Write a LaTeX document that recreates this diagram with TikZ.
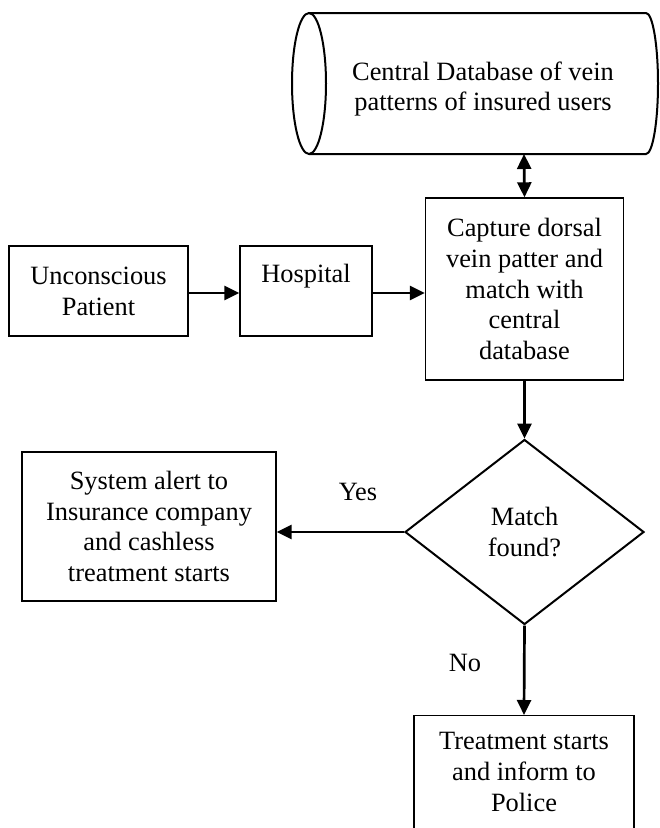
\documentclass[tikz,border=0pt]{standalone}
\usepackage{fontspec}
\setmainfont{Liberation Serif}
\usetikzlibrary{arrows.meta,shapes.geometric}
\begin{document}
\begin{tikzpicture}[x=1pt,y=-1pt,
  every node/.style={font=\fontsize{26.4}{30.8}\selectfont},
  box/.style={draw, line width=1.4pt, align=center, inner sep=0pt},
  plain/.style={inner sep=0pt, align=center},
  cyl/.style={draw, line width=2pt},
  arr/.style={line width=2.7pt, -{Triangle[length=15pt,width=14pt]}},
  darr/.style={line width=2.7pt, {Triangle[length=15pt,width=14pt]}-{Triangle[length=15pt,width=14pt]}},
  dec/.style={diamond, draw, line width=2pt, inner sep=0pt, align=center}]
\useasboundingbox (0,0) rectangle (660,828);
\clip (0,0) rectangle (660,828);
% database cylinder
\draw[cyl] (309,13) -- (646,13) arc[start angle=-90, end angle=90, x radius=12, y radius=70.5] -- (309,154);
\draw[cyl] (309,83.5) ellipse[x radius=17, y radius=70.5];
\node[plain] (db) at (483,89) {Central Database of vein\\patterns of insured users};
\coordinate (dbb) at (524,154);
% boxes
\node[box, minimum width=198, minimum height=182] (cap) at (524.5,289) {Capture dorsal\\vein patter and\\match with\\central\\database};
\node[box, minimum width=179, minimum height=90] (unc) at (98.5,291) {Unconscious\\Patient};
\node[box, minimum width=132, minimum height=90] (hosp) at (306,291) {};
\node[plain, anchor=base] (hosptxt) at (306,282) {Hospital};
\node[dec, minimum width=239, minimum height=185] (match) at (524.5,532) {Match\\found?};
\node[box, minimum width=254, minimum height=149] (alert) at (149,526.5) {System alert to\\Insurance company\\and cashless\\treatment starts};
\node[box, minimum width=220, minimum height=160, anchor=north] (police) at (524,715) {};
\node[plain, anchor=north] (policetxt) at (524,732.5) {Treatment starts\\and inform to\\Police};
% labels
\node[plain] (yes) at (358,492) {Yes};
\node[plain] (no) at (465,663) {No};
% connectors
\draw[darr] (dbb) -- (cap.north);
\draw[arr] ([yshift=-2pt]unc.east) -- ([yshift=-2pt]hosp.west);
\draw[arr] ([yshift=-2pt]hosp.east) -- ([yshift=-2pt]hosp.east -| cap.west);
\draw[arr] (cap.south) -- (match.north);
\draw[arr] (match.west) -- (match.west -| alert.east);
\draw[arr] (match.south) -- (police.north);
\end{tikzpicture}
\end{document}
